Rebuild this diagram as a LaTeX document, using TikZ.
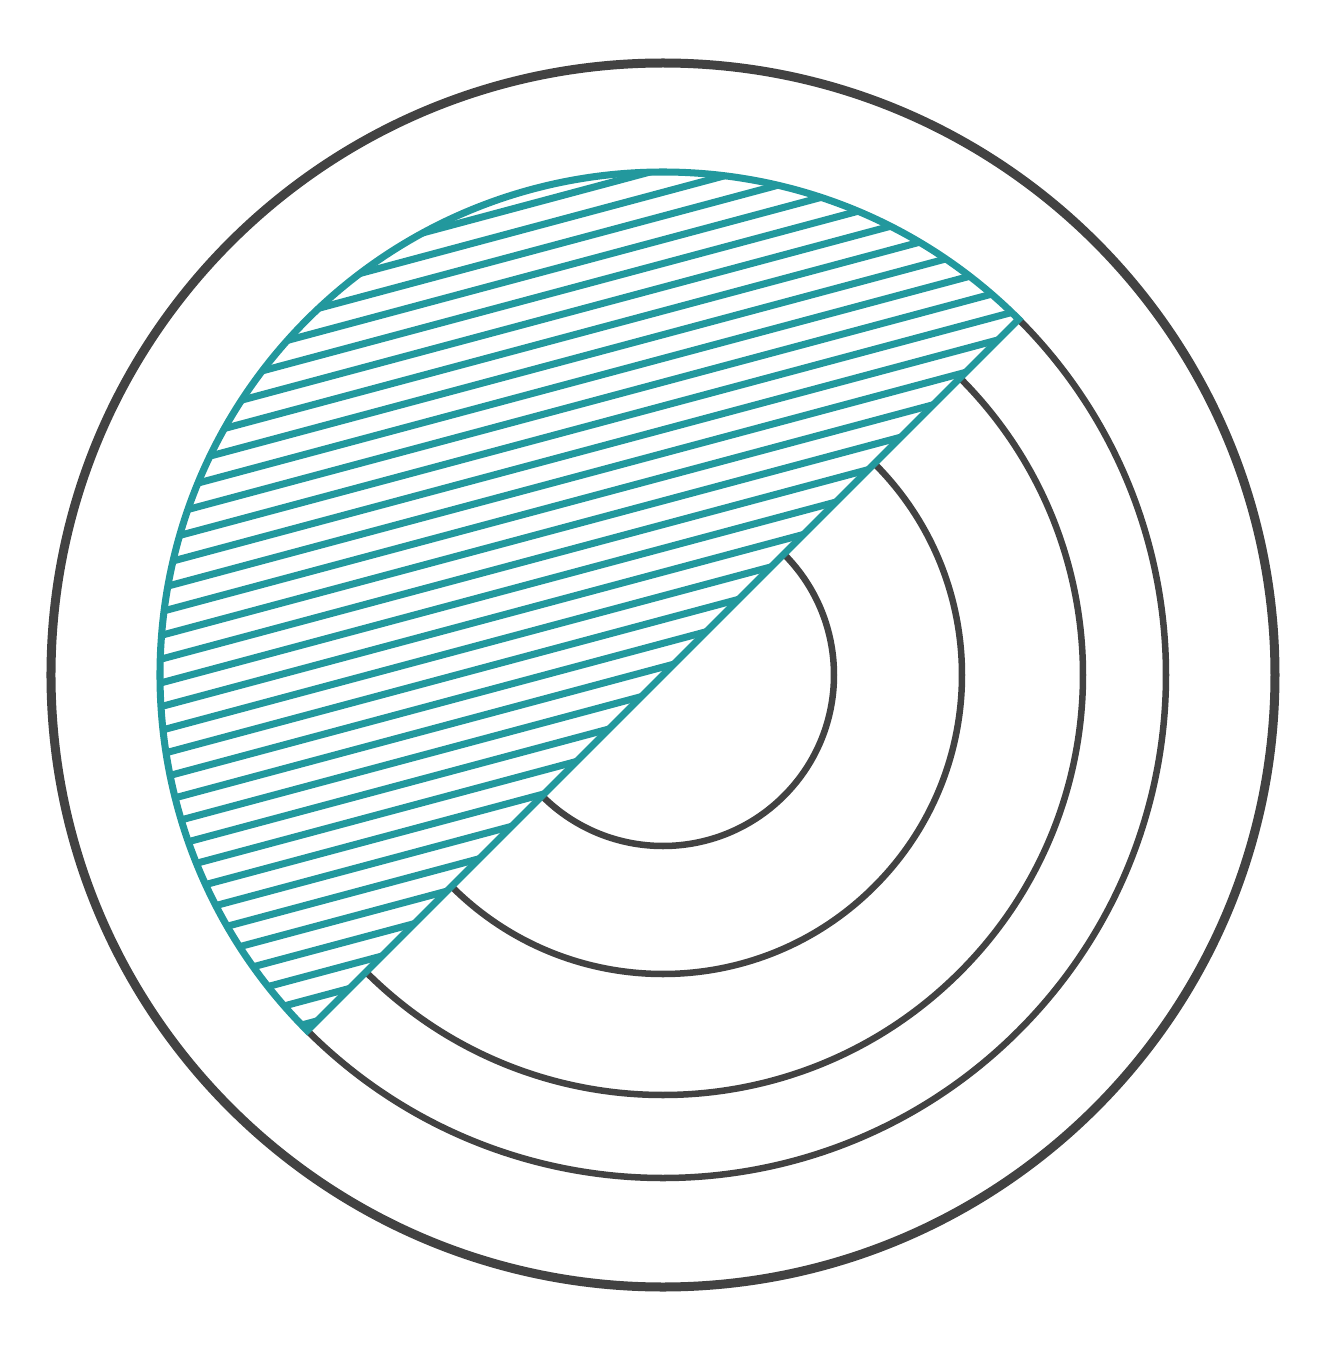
\documentclass[tikz,border=0pt]{standalone}
\usepackage{tikz}
\definecolor{ringgray}{RGB}{66,66,66}
\definecolor{hatchteal}{RGB}{34,152,157}
\tikzset{
  outerring/.style={draw=ringgray, line width=2.56pt},
  innerarc/.style={draw=ringgray, line width=1.85pt},
  tealline/.style={draw=hatchteal, line width=2pt},
  hatchline/.style={draw=hatchteal, line width=2pt}
}
\begin{document}
\begin{tikzpicture}[x=0.01cm,y=0.01cm]
  \useasboundingbox (-663,-676) rectangle (663,675);
  \coordinate (c) at (0,0);
  % outer circle
  \draw[outerring] (c) circle[radius=612];
  % dark arcs on the lower-right side
  \foreach \r in {171,299,420,503}
    \draw[innerarc] (45:\r) arc[start angle=45, end angle=-135, radius=\r];
  % hatching in the upper-left half disc
  \begin{scope}
    \clip (45:503) arc[start angle=45, end angle=225, radius=503] -- cycle;
    \foreach \k in {-24,...,21}
      \draw[hatchline, rotate=15] (-650, {30.6+22.93*\k}) -- (650, {30.6+22.93*\k});
  \end{scope}
  % teal outline of the half disc
  \coordinate (ne) at (45:503);
  \coordinate (sw) at (225:503);
  \draw[tealline, line join=miter] (ne) arc[start angle=45, end angle=225, radius=503] -- cycle;
\end{tikzpicture}
\end{document}
